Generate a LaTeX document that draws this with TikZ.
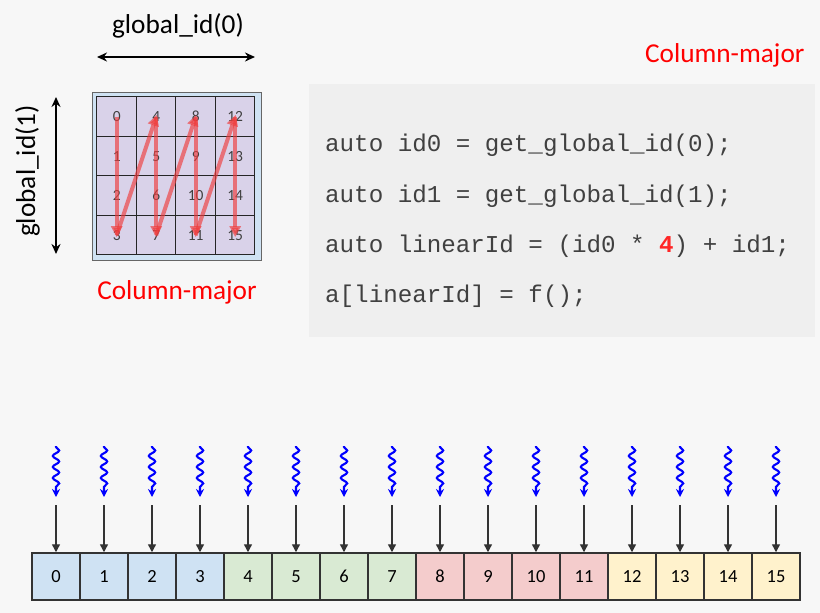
\documentclass[tikz,border=0pt]{standalone}
\usepackage{fontspec}
\setmainfont{Carlito}
\setmonofont{Liberation Mono}
\usetikzlibrary{positioning,arrows.meta,decorations.pathmorphing}
\definecolor{bgcol}{HTML}{F7F7F7}
\definecolor{codebg}{HTML}{EFEFEF}
\definecolor{lav}{HTML}{D9D2E9}
\definecolor{frameblue}{HTML}{CFE2F3}
\definecolor{cblue}{HTML}{CFE2F3}
\definecolor{cgreen}{HTML}{D9EAD3}
\definecolor{cpink}{HTML}{F4CCCC}
\definecolor{cyellow}{HTML}{FFF2CC}
\definecolor{zigred}{HTML}{F03C3C}
\definecolor{codegray}{HTML}{404040}

\begin{document}
\begin{tikzpicture}[x=1pt,y=-1pt,
	label/.style={font=\fontsize{27.3}{30}\selectfont, text=black},
	redlabel/.style={font=\fontsize{27.3}{30}\selectfont, text=red},
	code/.style={font=\ttfamily\fontsize{24.2}{28}\selectfont, text=codegray, anchor=base west, inner sep=0pt},
	gcell/.style={draw=black!85, line width=1pt, fill=lav, minimum size=39.5pt,
	inner sep=0pt, text=black!75, font=\fontsize{15.5}{17}\selectfont},
	acell/.style={draw=black!80, line width=1.5pt, minimum width=48pt,
	minimum height=47pt, inner sep=0pt, font=\fontsize{18.5}{20}\selectfont},
	zig/.style={draw=zigred, opacity=0.65, line width=4pt,
	-{Triangle[length=11pt,width=11pt]}, shorten >=-2pt},
	dim/.style={line width=2.2pt, {Stealth[length=10pt,width=9pt]}-{Stealth[length=10pt,width=9pt]}},
	squig/.style={draw=blue, line width=2.1pt, decorate,
	decoration={snake, amplitude=3.2pt, segment length=11pt, pre length=1pt, post length=7pt},
	-{Stealth[length=8pt,width=8pt]}},
	feed/.style={draw=black!80, line width=1.4pt, -{Triangle[length=8pt,width=8pt]}}
	]
	\fill[bgcol] (0,0) rectangle (820,613);
	\useasboundingbox (0,0) rectangle (820,613);
	
	% code block
	\node[fill=codebg, minimum width=506pt, minimum height=253pt, inner sep=0pt] (codebox) at (562,210.5) {};
	\node[code] (line1) at (325,151) {auto id0 = get\_global\_id(0);};
	\node[code] (line2) at (325,202) {auto id1 = get\_global\_id(1);};
	\node[code] (line3) at (325,252) {auto linearId = (id0 * {\bfseries\color{red!85!white}4}) + id1;};
	\node[code] (line4) at (325,302) {a[linearId] = f();};
	\node[redlabel, anchor=base east] (major) at (808,62) {Column-major};
	
	% work-item grid
	\node[draw=black!60, line width=1pt, fill=frameblue, minimum width=169pt,
	minimum height=168pt] (frame) at (176.5,176) {};
	\foreach \i in {0,...,3}
	\foreach \j in {0,...,3}{
		\pgfmathtruncatemacro\n{4*\i+\j}
		\node[gcell] (g\n) at (116.7+39.5*\i,116.7+39.5*\j) {\n};
	}
	\draw[zig] (g0.center) -- (g3.center);
	\draw[zig] (g3.center) -- (g4.center);
	\draw[zig] (g4.center) -- (g7.center);
	\draw[zig] (g7.center) -- (g8.center);
	\draw[zig] (g8.center) -- (g11.center);
	\draw[zig] (g11.center) -- (g12.center);
	\draw[zig] (g12.center) -- (g15.center);
	
	\node[label, anchor=base] (gid0) at (178,33) {global\_id(0)};
	\coordinate (h0) at (97,57);
	\coordinate (h1) at (255,57);
	\draw[dim] (h0) -- (h1);
	\node[label, anchor=base, rotate=90] (gid1) at (35,171) {global\_id(1)};
	\coordinate (v0) at (56,97);
	\coordinate (v1) at (56,254);
	\draw[dim] (v0) -- (v1);
	\node[redlabel, anchor=base] (major2) at (177,299) {Column-major};
	
	% linear memory
	\foreach \c [count=\k from 0] in {cblue,cgreen,cpink,cyellow}
	\foreach \j in {0,...,3}{
		\pgfmathtruncatemacro\n{4*\k+\j}
		\node[acell, fill=\c] (a\n) at (56+48*\n,576.5) {\n};
		\coordinate (s\n) at (56+48*\n,446);
		\coordinate (e\n) at (56+48*\n,497);
		\coordinate (t\n) at (56+48*\n,505);
		\draw[squig] (s\n) -- (e\n);
		\draw[feed] (t\n) -- (a\n);
	}
\end{tikzpicture}
\end{document}
